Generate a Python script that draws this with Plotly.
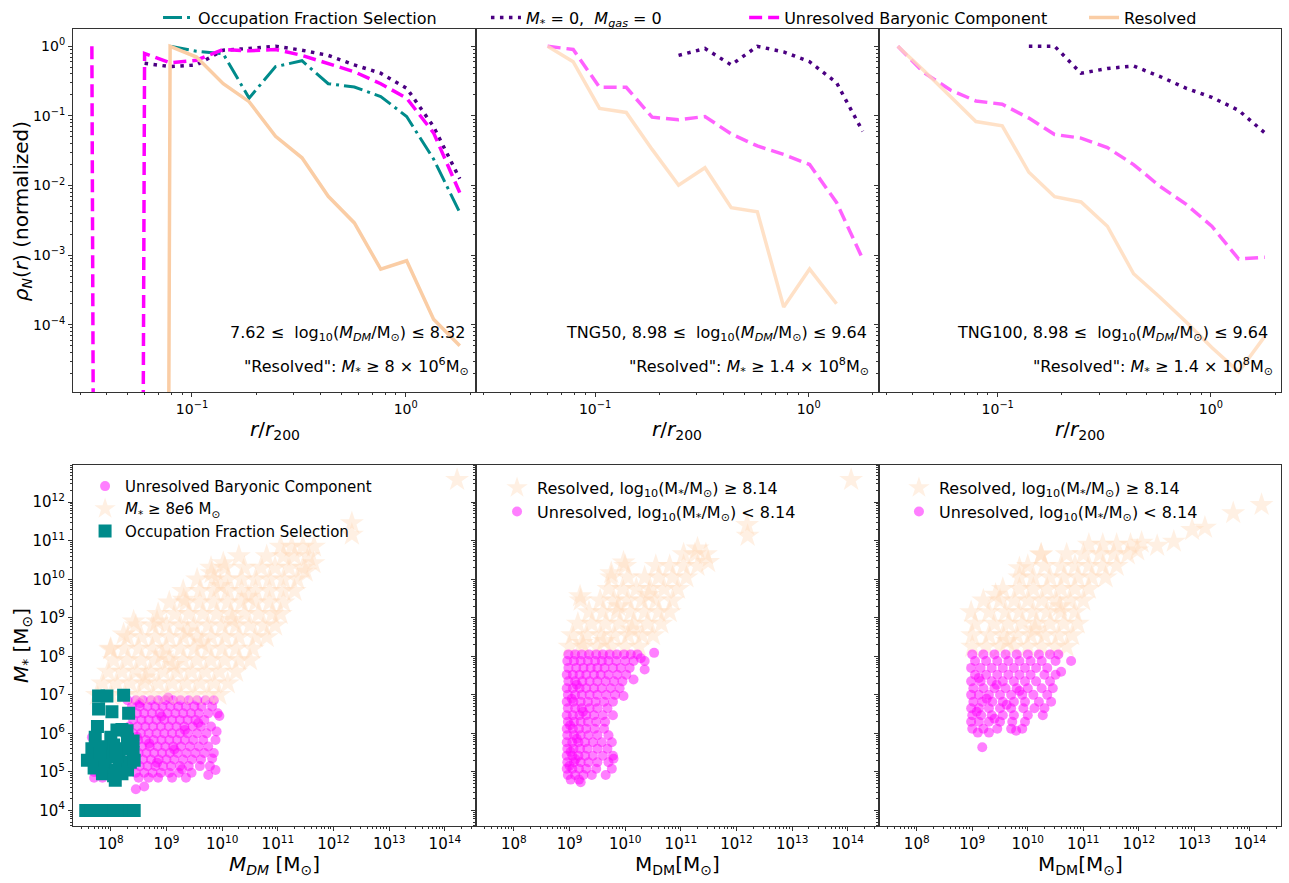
import numpy as np
import plotly.graph_objects as go

FONT = "DejaVu Sans"

# ---------------- top row: radial profiles ----------------
r_bins = [0.034, 0.045, 0.060, 0.079, 0.105, 0.140, 0.185, 0.246, 0.327,
          0.434, 0.575, 0.764, 1.01, 1.35, 1.79]
Z = 1e-100   # empty bin (zero density) -> vertical drop on the log axis
N = None     # bin not present

occ_L   = [N, N, N, 1.0, 0.85, 0.78, 0.18, 0.51, 0.62, 0.29, 0.26, 0.19, 0.098, 0.024, 0.0041]
nobar_L = [N, N, 0.57, 0.51, 0.54, 0.88, 0.93, 1.0, 0.88, 0.74, 0.54, 0.41, 0.25, 0.07, 0.0125]
unres_L = [1.0, Z, 0.79, 0.58, 0.63, 0.90, 0.86, 0.90, 0.74, 0.57, 0.43, 0.29, 0.18, 0.057, 0.0079]
res_L   = [Z, Z, Z, 1.0, 0.70, 0.29, 0.16, 0.051, 0.025, 0.0070, 0.0029, 0.00063, 0.00083, 0.00012, 0.00005]

nobar_M = [N, N, N, N, N, N, N, 0.74, 0.93, 0.54, 1.0, 0.83, 0.60, 0.30, 0.060]
unres_M = [N, N, 1.0, 0.90, 0.257, 0.257, 0.096, 0.088, 0.098, 0.055, 0.037, 0.028, 0.020, 0.0057, 0.00088]
res_M   = [N, N, 1.0, 0.60, 0.128, 0.112, 0.033, 0.0101, 0.018, 0.0048, 0.0042, 0.00018, 0.00063, 0.0002, N]

nobar_R = [N, N, N, N, N, 1.0, 1.0, 0.41, 0.48, 0.52, 0.37, 0.25, 0.185, 0.12, 0.057]
unres_R = [1.0, 0.42, 0.235, 0.164, 0.147, 0.093, 0.054, 0.048, 0.035, 0.020, 0.0098, 0.0054, 0.0026, 0.00088, 0.00093]
res_R   = [1.0, 0.45, 0.19, 0.083, 0.072, 0.0155, 0.0069, 0.0058, 0.0026, 0.00054, 0.00025, 0.00011, 0.000047, 0.000021, 0.000068]

# ---------------- bottom row: (log10 M_DM, log10 M*) ----------------
bl_unres_rows = [
    (6.86, [8.30, 8.45, 8.58, 8.72, 8.85, 8.98, 9.12, 9.25, 9.40, 9.55, 9.70, 9.85]),
    (6.70, [8.38, 8.52, 8.66, 8.80, 8.93, 9.07, 9.21, 9.35, 9.50, 9.63, 9.82]),
    (6.52, [8.32, 8.47, 8.60, 8.74, 8.88, 9.02, 9.16, 9.30, 9.44, 9.58, 9.75, 9.92]),
    (6.35, [8.40, 8.55, 8.68, 8.82, 8.96, 9.10, 9.24, 9.38, 9.52, 9.68]),
    (6.18, [8.33, 8.48, 8.62, 8.76, 8.90, 9.04, 9.18, 9.32, 9.47, 9.62, 9.80]),
    (6.00, [8.40, 8.54, 8.68, 8.82, 8.96, 9.10, 9.24, 9.38, 9.55, 9.72]),
    (5.83, [8.35, 8.49, 8.63, 8.77, 8.91, 9.05, 9.19, 9.33, 9.48, 9.66, 9.88]),
    (5.66, [8.42, 8.56, 8.70, 8.84, 8.98, 9.12, 9.26, 9.42, 9.58, 9.75]),
    (5.49, [8.36, 8.50, 8.64, 8.78, 8.92, 9.06, 9.20, 9.36, 9.52, 9.68, 9.85]),
    (5.32, [8.44, 8.58, 8.72, 8.86, 9.00, 9.14, 9.30, 9.46, 9.62]),
    (5.15, [8.38, 8.52, 8.66, 8.80, 8.94, 9.08, 9.24, 9.40, 9.60, 9.78]),
    (4.98, [8.45, 8.60, 8.75, 8.90, 9.05, 9.22, 9.45]),
    (4.85, [7.70, 7.85, 8.50, 8.68, 8.85, 9.10, 9.35]),
]
bl_unres_extra = [(8.45, 4.55), (8.60, 4.62), (9.88, 5.05), (9.75, 4.92), (9.95, 6.45),
                  (7.66, 5.90), (7.70, 5.00), (7.80, 4.95), (9.90, 6.05), (9.82, 5.35),
                  (8.52, 6.78), (8.91, 6.44), (9.33, 6.09), (8.69, 5.74), (9.14, 5.58),
                  (8.83, 5.24), (9.28, 5.07), (9.57, 6.27), (9.03, 6.93), (8.47, 5.91)]

bl_res_rows = [
    (7.00, [7.75, 8.0, 8.25, 8.5, 8.75, 9.0, 9.25, 9.5, 9.75, 9.95]),
    (7.30, [7.85, 8.1, 8.35, 8.6, 8.85, 9.1, 9.35, 9.6, 9.85, 10.1]),
    (7.60, [7.95, 8.2, 8.45, 8.7, 8.95, 9.2, 9.45, 9.7, 9.95, 10.25]),
    (7.90, [8.05, 8.3, 8.55, 8.8, 9.05, 9.3, 9.55, 9.8, 10.05, 10.3, 10.5]),
    (8.20, [8.0, 8.25, 8.5, 8.75, 9.0, 9.25, 9.5, 9.75, 10.0, 10.25, 10.55]),
    (8.50, [8.3, 8.55, 8.8, 9.05, 9.3, 9.55, 9.8, 10.05, 10.3, 10.6, 10.8]),
    (8.80, [8.45, 8.75, 9.0, 9.25, 9.5, 9.75, 10.0, 10.25, 10.5, 10.75, 10.95]),
    (9.10, [8.85, 9.15, 9.4, 9.65, 9.9, 10.15, 10.4, 10.65, 10.9, 11.05]),
    (9.40, [9.05, 9.35, 9.6, 9.85, 10.1, 10.35, 10.6, 10.85, 11.1]),
    (9.70, [9.3, 9.6, 9.85, 10.1, 10.35, 10.6, 10.85, 11.1, 11.3]),
    (10.00, [9.55, 9.85, 10.1, 10.35, 10.6, 10.85, 11.1, 11.35]),
    (10.30, [9.8, 10.05, 10.4, 10.7, 10.95, 11.2, 11.45]),
    (10.60, [10.3, 10.8, 11.1, 11.3, 11.55]),
    (10.85, [11.05, 11.25, 11.45, 11.65]),
]
bl_res_extra = [(8.41, 8.91), (8.83, 8.91), (8.23, 8.57), (7.99, 8.18), (9.31, 9.47),
                (9.81, 10.16), (10.02, 10.42), (12.33, 11.46), (12.33, 11.16),
                (14.22, 12.58), (11.64, 10.42), (11.5, 10.2),
                (8.62, 7.45), (9.12, 7.78), (9.63, 8.36), (10.18, 8.95), (9.38, 8.65),
                (10.47, 9.55), (8.92, 8.05), (9.97, 9.83)]

bl_occ = [(7.78, 6.97), (7.93, 6.97), (8.23, 6.99), (7.78, 6.63), (8.02, 6.56), (8.32, 6.52),
          (7.76, 6.18), (8.11, 6.09), (8.29, 6.07), (8.20, 6.10),
          (7.72, 5.90), (8.00, 5.90), (8.30, 5.85), (7.66, 5.60), (7.85, 5.65), (8.05, 5.70),
          (8.25, 5.60), (8.40, 5.50), (7.58, 5.30), (7.75, 5.35), (7.95, 5.40), (8.15, 5.35),
          (8.35, 5.25), (7.70, 5.10), (7.90, 5.10), (8.10, 5.05), (8.30, 5.05), (7.85, 4.95),
          (8.05, 4.90), (8.20, 4.95), (8.08, 4.78), (8.40, 5.80), (8.42, 5.30), (7.80, 5.50),
          (8.10, 5.55),
          (7.55, 4.0), (7.65, 4.0), (7.75, 4.0), (7.85, 4.0), (7.95, 4.0), (8.05, 4.0),
          (8.15, 4.0), (8.25, 4.0), (8.35, 4.0), (8.42, 4.0)]

bm_unres_rows = [
    (8.05, [8.98, 9.1, 9.22, 9.35, 9.48, 9.6, 9.72, 9.85, 9.98, 10.1, 10.22]),
    (7.88, [8.96, 9.08, 9.2, 9.33, 9.46, 9.58, 9.7, 9.84, 10.0, 10.15, 10.35]),
    (7.70, [8.98, 9.12, 9.25, 9.38, 9.5, 9.63, 9.78, 9.92, 10.08]),
    (7.52, [8.95, 9.06, 9.18, 9.3, 9.44, 9.56, 9.7, 9.86, 10.02]),
    (7.35, [8.98, 9.1, 9.23, 9.36, 9.5, 9.65, 9.8, 9.95]),
    (7.17, [8.95, 9.06, 9.18, 9.3, 9.44, 9.58, 9.74, 9.9]),
    (7.00, [8.97, 9.1, 9.22, 9.36, 9.5, 9.66, 9.82]),
    (6.82, [8.95, 9.07, 9.2, 9.33, 9.47, 9.62, 9.78]),
    (6.65, [8.97, 9.1, 9.22, 9.36, 9.5, 9.68]),
    (6.47, [8.95, 9.06, 9.18, 9.3, 9.44, 9.6, 9.78]),
    (6.30, [8.97, 9.08, 9.2, 9.33, 9.48, 9.64]),
    (6.12, [8.95, 9.06, 9.17, 9.3, 9.45, 9.62]),
    (5.95, [8.96, 9.08, 9.2, 9.34, 9.5, 9.7]),
    (5.77, [8.95, 9.05, 9.16, 9.28, 9.42, 9.58, 9.76]),
    (5.60, [8.96, 9.07, 9.19, 9.32, 9.5, 9.68]),
    (5.42, [8.95, 9.05, 9.16, 9.28, 9.42, 9.6, 9.78]),
    (5.25, [8.96, 9.08, 9.2, 9.34, 9.5, 9.7]),
    (5.08, [8.95, 9.05, 9.17, 9.3, 9.48, 9.76]),
    (4.92, [8.97, 9.1, 9.25, 9.4, 9.65]),
    (4.80, [9.02, 9.17]),
]
bm_unres_extra = [(10.52, 8.09), (10.35, 7.66), (9.97, 6.97), (9.79, 5.34), (9.2, 4.73),
                  (10.28, 7.95), (10.15, 7.4), (9.0, 5.16), (9.11, 5.33), (9.02, 5.52),
                  (9.13, 5.86), (9.01, 6.21), (9.24, 6.56), (9.04, 6.9), (9.13, 7.26)]

bm_res_rows = [
    (8.25, [9.0, 9.25, 9.5, 9.75, 10.0, 10.25]),
    (8.55, [9.05, 9.3, 9.55, 9.8, 10.05, 10.3, 10.5]),
    (8.85, [9.15, 9.4, 9.65, 9.9, 10.15, 10.4, 10.65]),
    (9.15, [9.35, 9.6, 9.85, 10.1, 10.35, 10.6, 10.8]),
    (9.45, [9.2, 9.55, 9.8, 10.05, 10.3, 10.55, 10.85]),
    (9.75, [9.7, 9.95, 10.2, 10.45, 10.7, 10.95]),
    (10.05, [9.75, 10.05, 10.35, 10.6, 10.85, 11.1]),
    (10.35, [10.0, 10.55, 10.8, 11.05, 11.3]),
    (10.65, [11.05, 11.25, 11.45]),
]
bm_res_extra = [(12.19, 11.41), (12.2, 11.13), (14.06, 12.58), (11.49, 10.45), (9.97, 10.44),
                (9.75, 10.16), (9.19, 9.56), (11.3, 10.8), (9.22, 8.35),
                (9.62, 8.4), (10.12, 8.7), (9.88, 9.3), (10.42, 9.6)]

br_unres_rows = [
    (8.05, [9.0, 9.2, 9.4, 9.6, 9.8, 10.0, 10.2, 10.4, 10.55]),
    (7.88, [9.05, 9.25, 9.45, 9.65, 9.85, 10.05, 10.25, 10.5, 10.78]),
    (7.70, [8.98, 9.15, 9.35, 9.55, 9.75, 9.95, 10.15, 10.35]),
    (7.52, [9.05, 9.25, 9.45, 9.65, 9.85, 10.05, 10.3, 10.5]),
    (7.35, [8.98, 9.15, 9.35, 9.55, 9.75, 9.95, 10.15, 10.4]),
    (7.17, [9.02, 9.2, 9.4, 9.6, 9.8, 10.0, 10.25, 10.45]),
    (7.00, [8.98, 9.12, 9.3, 9.5, 9.7, 9.9, 10.1, 10.35]),
    (6.82, [9.02, 9.18, 9.36, 9.55, 9.75, 9.95, 10.2, 10.42]),
    (6.65, [8.98, 9.12, 9.3, 9.5, 9.7, 9.92, 10.12, 10.3]),
    (6.47, [9.0, 9.16, 9.35, 9.55, 9.75, 10.0, 10.27]),
    (6.30, [8.98, 9.12, 9.3, 9.5, 9.72, 9.95]),
    (6.12, [9.0, 9.2, 9.45, 9.7, 9.9]),
    (6.02, [9.1, 9.3]),
]
br_unres_extra = [(9.18, 5.64), (10.6, 7.6), (9.79, 6.07), (9.08, 6.56), (9.26, 6.9),
                  (9.44, 7.26), (9.12, 7.44), (9.62, 6.74), (9.4, 6.38), (9.85, 7.1)]

br_res_rows = [
    (8.25, [9.0, 9.25, 9.5, 9.75, 10.0, 10.25, 10.5, 10.7]),
    (8.55, [9.0, 9.3, 9.55, 9.8, 10.05, 10.3, 10.55, 10.8]),
    (8.85, [9.05, 9.4, 9.65, 9.9, 10.15, 10.4, 10.65, 10.9]),
    (9.15, [8.98, 9.3, 9.6, 9.85, 10.1, 10.35, 10.6, 10.85]),
    (9.45, [9.2, 9.5, 9.75, 10.0, 10.25, 10.5, 10.75, 11.0]),
    (9.75, [9.55, 9.85, 10.1, 10.35, 10.6, 10.85, 11.1]),
    (10.05, [9.85, 10.1, 10.4, 10.65, 10.9, 11.15, 11.4]),
    (10.35, [10.0, 10.3, 10.6, 10.85, 11.1, 11.35, 11.6]),
    (10.65, [10.24, 10.7, 11.0, 11.3, 11.55, 11.8]),
    (10.90, [11.1, 11.35, 11.6, 11.85]),
]
br_res_extra = [(12.33, 10.87), (12.63, 10.98), (12.96, 11.28), (13.19, 11.34), (13.7, 11.72),
                (14.21, 11.93), (12.05, 10.95), (9.85, 10.29), (10.24, 10.64), (11.97, 10.75),
                (9.63, 8.4), (10.13, 8.7), (10.58, 9.3), (9.42, 9.6)]


def flatten(rows, extra=()):
    lx, ly = [], []
    for yv, xs in rows:
        for xv in xs:
            lx.append(xv)
            ly.append(yv)
    for xv, yv in extra:
        lx.append(xv)
        ly.append(yv)
    return 10 ** np.array(lx), 10 ** np.array(ly)


# ---------------- styles ----------------
TEAL = "darkcyan"
INDIGO = "indigo"
MAG = "magenta"
PEACH = "rgb(255,218,185)"

fig = go.Figure()

def line(y, ax, name, color, dash, width, legend):
    fig.add_trace(go.Scatter(x=r_bins, y=y, mode="lines", name=name, xaxis="x" + ax, yaxis="y" + ax,
                             line=dict(color=color, dash=dash, width=width),
                             showlegend=legend is not None, legend=legend or "legend",
                             connectgaps=False))

LBL_OCC = "Occupation Fraction Selection"
LBL_NOB = "<i>M</i><sub>*</sub> = 0,  <i>M</i><sub><i>gas</i></sub> = 0"
LBL_UNR = "Unresolved Baryonic Component"
LBL_RES = "Resolved"

DASH_DD = "19px,5px,3px,5px"
DASH_DOT = "3.5px,5.5px"
DASH_DA = "13px,6px"

# panel 1
line(occ_L, "", LBL_OCC, TEAL, DASH_DD, 3, "legend")
line(nobar_L, "", LBL_NOB, INDIGO, DASH_DOT, 3.5, "legend5")
line(unres_L, "", LBL_UNR, MAG, DASH_DA, 3.5, "legend6")
line(res_L, "", LBL_RES, "rgb(250,205,165)", "solid", 3.5, "legend7")
# panel 2
line(nobar_M, "2", LBL_NOB, INDIGO, DASH_DOT, 3.5, None)
line(unres_M, "2", LBL_UNR, "rgba(255,0,255,0.62)", DASH_DA, 3.5, None)
line(res_M, "2", LBL_RES, "rgba(255,218,185,0.8)", "solid", 3.5, None)
# panel 3
line(nobar_R, "3", LBL_NOB, INDIGO, DASH_DOT, 3.5, None)
line(unres_R, "3", LBL_UNR, "rgba(255,0,255,0.62)", DASH_DA, 3.5, None)
line(res_R, "3", LBL_RES, "rgba(255,218,185,0.8)", "solid", 3.5, None)


def pts(x, y, ax, name, symbol, size, color, opacity, legend):
    fig.add_trace(go.Scatter(x=x, y=y, mode="markers", name=name, xaxis="x" + ax, yaxis="y" + ax,
                             marker=dict(symbol=symbol, size=size, color=color, opacity=opacity,
                                         line=dict(width=0)),
                             legend=legend, showlegend=True))

C_SIZE, C_OP = 10, 0.5
S_SIZE, S_OP = 18, 0.4

x, y = flatten(bl_unres_rows, bl_unres_extra)
pts(x, y, "4", "Unresolved Baryonic Component", "circle", C_SIZE, MAG, C_OP, "legend2")
x, y = flatten(bl_res_rows, bl_res_extra)
pts(x, y, "4", "<i>M</i><sub>*</sub> ≥ 8<i>e</i>6 M<sub>⊙</sub>", "star", S_SIZE, PEACH, S_OP, "legend2")
x, y = flatten([], bl_occ)
pts(x, y, "4", "Occupation Fraction Selection", "square", 13, TEAL, 1.0, "legend2")

LBL_R814 = "Resolved, log<sub>10</sub>(M<sub>*</sub>/M<sub>⊙</sub>) ≥ 8.14"
LBL_U814 = "Unresolved, log<sub>10</sub>(M<sub>*</sub>/M<sub>⊙</sub>) < 8.14"
x, y = flatten(bm_res_rows, bm_res_extra)
pts(x, y, "5", LBL_R814, "star", S_SIZE, PEACH, S_OP, "legend3")
x, y = flatten(bm_unres_rows, bm_unres_extra)
pts(x, y, "5", LBL_U814, "circle", C_SIZE, MAG, C_OP, "legend3")
x, y = flatten(br_res_rows, br_res_extra)
pts(x, y, "6", LBL_R814, "star", S_SIZE, PEACH, S_OP, "legend4")
x, y = flatten(br_unres_rows, br_unres_extra)
pts(x, y, "6", LBL_U814, "circle", C_SIZE, MAG, C_OP, "legend4")

# ---------------- axes ----------------
XD = [[0.0566, 0.3693], [0.3693, 0.6819], [0.6819, 0.9938]]
YD_TOP = [0.5583, 0.9717]
YD_BOT = [0.0646, 0.4757]
AXC = "#333333"


def minors(e0, e1):
    return [k * 10.0 ** e for e in range(e0, e1) for k in range(2, 10)]


def sup(e):
    return "10<sup>" + (("−" + str(-e)) if e < 0 else str(e)) + "</sup>"


def ax(domain, anchor, rng, tv, show_labels, size, mn):
    return dict(type="log", domain=domain, anchor=anchor, range=rng, showgrid=False, zeroline=False,
                showline=True, linecolor=AXC, linewidth=1, mirror=True, ticks="outside", ticklen=4,
                tickcolor=AXC, tickmode="array", tickvals=[10.0 ** e for e in tv],
                ticktext=[sup(e) for e in tv], showticklabels=show_labels,
                tickfont=dict(family=FONT, size=size, color="black"),
                minor=dict(tickmode="array", tickvals=mn, ticks="outside", ticklen=2, tickcolor=AXC,
                           showgrid=False))


layout = dict(width=1289, height=883, margin=dict(l=0, r=0, t=0, b=0),
              paper_bgcolor="white", plot_bgcolor="white",
              font=dict(family=FONT, color="black"))

top_x = [-1, 0]
top_y = [0, -1, -2, -3, -4]
bot_x = [8, 9, 10, 11, 12, 13, 14]
bot_y = [4, 5, 6, 7, 8, 9, 10, 11, 12]
names = ["", "2", "3", "4", "5", "6"]
for i in range(3):
    layout["xaxis" + names[i]] = ax(XD[i], "y" + names[i], [-1.557, 0.329], top_x, True, 14, minors(-2, 1))
    layout["yaxis" + names[i]] = ax(YD_TOP, "x" + names[i], [-4.97, 0.25], top_y, i == 0, 14, minors(-5, 0))
    j = i + 3
    layout["xaxis" + names[j]] = ax(XD[i], "y" + names[j], [7.32, 14.56], bot_x, True, 15, minors(7, 15))
    layout["yaxis" + names[j]] = ax(YD_BOT, "x" + names[j], [3.59, 12.97], bot_y, i == 0, 15, minors(3, 13))

TOPLEG = dict(orientation="h", xanchor="left", y=1.004, yanchor="top",
              font=dict(family=FONT, size=16), bgcolor="rgba(0,0,0,0)")
layout["legend"] = dict(TOPLEG, x=0.1226)
layout["legend5"] = dict(TOPLEG, x=0.3770)
layout["legend6"] = dict(TOPLEG, x=0.5773)
layout["legend7"] = dict(TOPLEG, x=0.8410)
layout["legend2"] = dict(x=0.0660, xanchor="left", y=0.470, yanchor="top",
                         font=dict(family=FONT, size=15), bgcolor="rgba(0,0,0,0)")
layout["legend3"] = dict(x=0.3856, xanchor="left", y=0.469, yanchor="top",
                         font=dict(family=FONT, size=16), bgcolor="rgba(0,0,0,0)")
layout["legend4"] = dict(x=0.6974, xanchor="left", y=0.469, yanchor="top",
                         font=dict(family=FONT, size=16), bgcolor="rgba(0,0,0,0)")
fig.update_layout(**layout)


def ann(xp, yp, text, size, xanchor="center", angle=0):
    fig.add_annotation(x=xp, y=yp, xref="paper", yref="paper", text=text, showarrow=False,
                       xanchor=xanchor, yanchor="middle", textangle=angle,
                       font=dict(family=FONT, size=size, color="black"))

MDM = "log<sub>10</sub>(<i>M</i><sub><i>DM</i></sub>/M<sub>⊙</sub>)"
ann(0.3623, 0.6251, "7.62 ≤  " + MDM + " ≤ 8.32", 16, "right")
ann(0.3654, 0.5878, '"Resolved": <i>M</i><sub>*</sub> ≥ 8 × 10<sup>6</sup>M<sub>⊙</sub>', 16, "right")
ann(0.6742, 0.6251, "TNG50, 8.98 ≤  " + MDM + " ≤ 9.64", 16, "right")
ann(0.6757, 0.5878, '"Resolved": <i>M</i><sub>*</sub> ≥ 1.4 × 10<sup>8</sup>M<sub>⊙</sub>', 16, "right")
ann(0.9853, 0.6251, "TNG100, 8.98 ≤  " + MDM + " ≤ 9.64", 16, "right")
ann(0.9891, 0.5878, '"Resolved": <i>M</i><sub>*</sub> ≥ 1.4 × 10<sup>8</sup>M<sub>⊙</sub>', 16, "right")

ann(0.0171, 0.7644, "<i>ρ</i><sub><i>N</i></sub>(<i>r</i>) (normalized)", 20, angle=-90)
for xc in [0.213, 0.5256, 0.8379]:
    ann(xc, 0.5153, "<i>r</i>/<i>r</i><sub>200</sub>", 20)
ann(0.0171, 0.2696, "<i>M</i><sub>*</sub> [M<sub>⊙</sub>]", 20, angle=-90)
ann(0.213, 0.020, "<i>M</i><sub><i>DM</i></sub> [M<sub>⊙</sub>]", 20)
ann(0.5256, 0.020, "M<sub>DM</sub>[M<sub>⊙</sub>]", 20)
ann(0.8379, 0.020, "M<sub>DM</sub>[M<sub>⊙</sub>]", 20)

fig.write_html("out.html")
